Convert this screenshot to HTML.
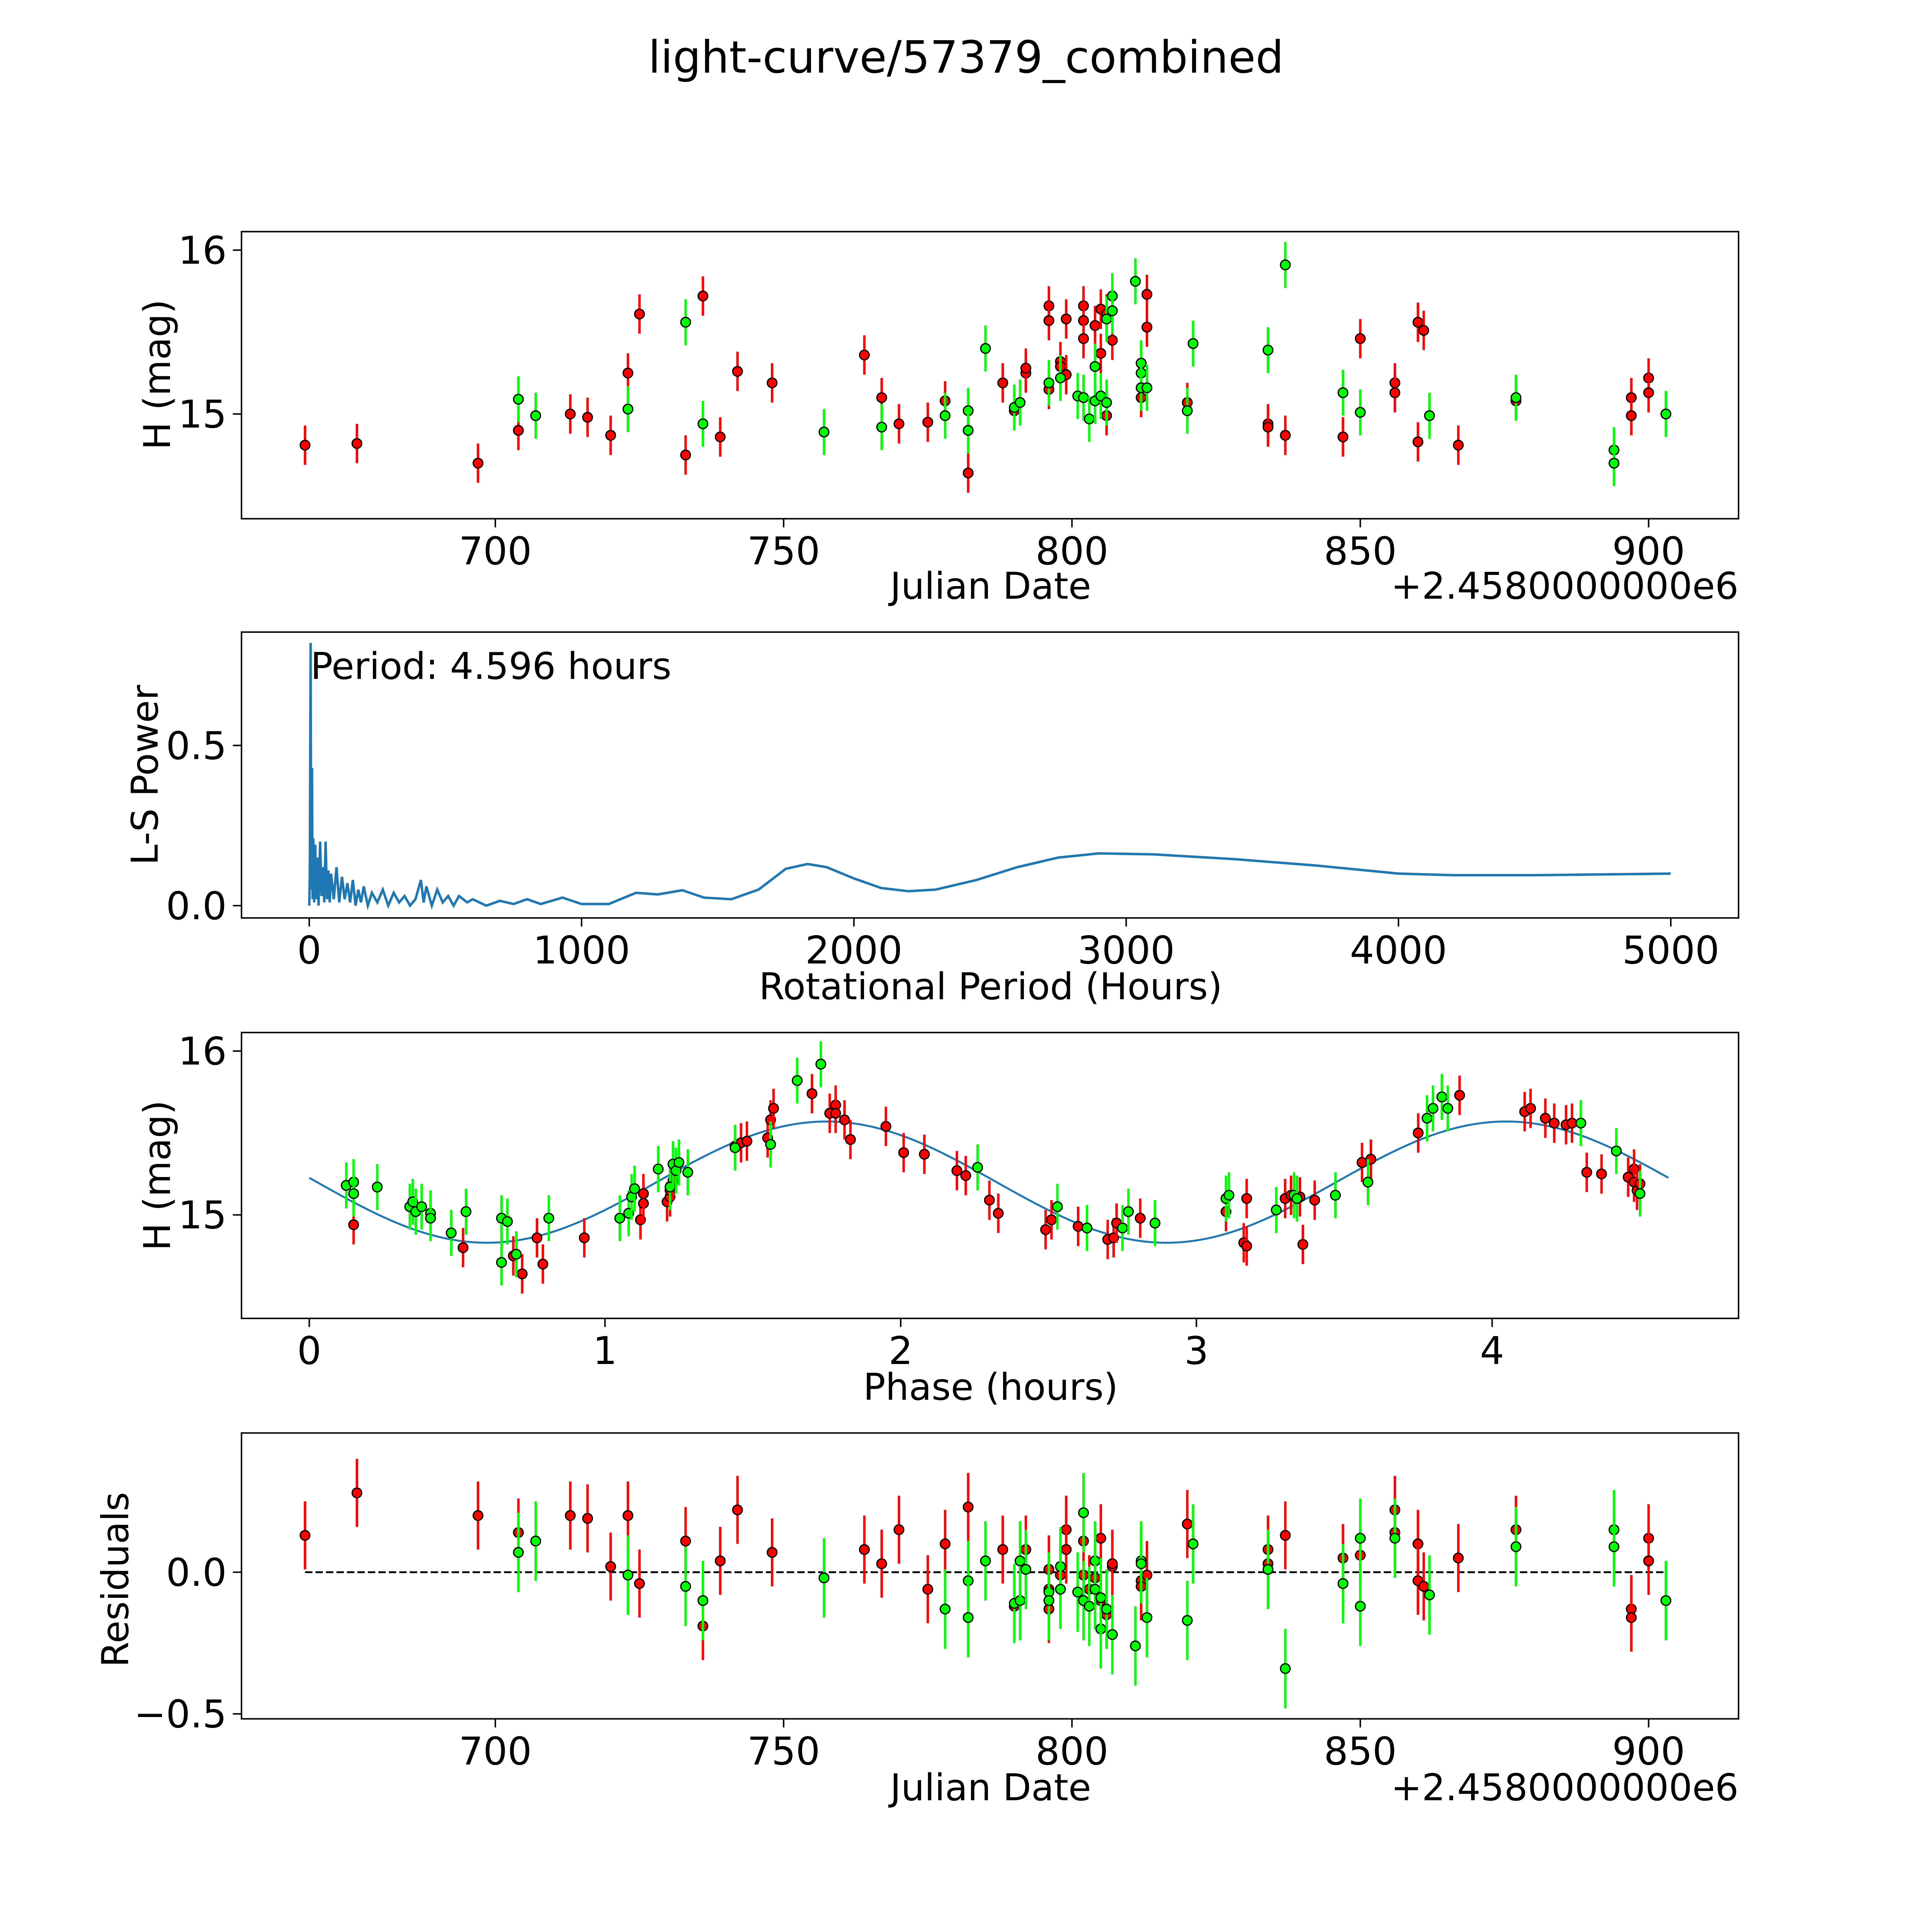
<!DOCTYPE html>
<html><head><meta charset="utf-8"><style>html,body{margin:0;padding:0;background:#fff;overflow:hidden}svg{display:block;width:100vw;height:100vw}text{font-family:"DejaVu Sans","Liberation Sans",sans-serif;fill:#000}</style></head>
<body>
<svg id="fig" xmlns="http://www.w3.org/2000/svg" viewBox="0 0 1568 1568" preserveAspectRatio="xMinYMin meet">
<rect width="1568" height="1568" fill="#fff"/>
<text x="784" y="59" font-size="36" text-anchor="middle">light-curve/57379_combined</text>
</svg>
<script>
// ---- Panel 1: light curve (JD offset, mag)
const redJD=[667,676,697,704,713,716,720,723,725,733,736,739,742,748,764,767,770,775,778,782,788,790,792,792,796,796,796,798,798,799,799,802,802,802,804,805,805,806,807,806,812,812,813,813,820,834,834,837,847,850,856,856,860,860,861,867,877,897,897,900,900];
const redMag=[14.81,14.82,14.70,14.90,15.00,14.98,14.87,15.25,15.61,14.75,15.72,14.86,15.26,15.19,15.36,15.10,14.94,14.95,15.08,14.64,15.19,15.02,15.25,15.28,15.66,15.57,15.15,15.32,15.29,15.24,15.58,15.66,15.57,15.46,15.54,15.64,15.37,14.99,15.45,15.61,15.31,15.10,15.73,15.53,15.07,14.94,14.92,14.87,14.86,15.46,15.19,15.13,15.56,14.83,15.51,14.81,15.08,15.10,14.99,15.22,15.13];
const greenJD=[704,707,723,733,736,757,767,778,782,782,785,790,791,796,798,801,802,803,804,804,805,806,806,807,807,811,812,812,812,813,820,821,834,837,847,850,862,877,894,894,903];
const greenMag=[15.09,14.99,15.03,15.56,14.94,14.89,14.92,14.99,15.02,14.90,15.40,15.04,15.07,15.19,15.22,15.11,15.10,14.97,15.29,15.08,15.11,15.07,15.58,15.72,15.63,15.81,15.25,15.31,15.16,15.16,15.02,15.43,15.39,15.91,15.13,15.01,14.99,15.10,14.78,14.70,15.00];
const redErr=0.12, greenErr=0.14;
const jdTicks=[700,750,800,850,900];
const magTicks=[15,16];
// ---- Panel 2: periodogram
const periodVals=[0,2,5,7,10,12,15,18,22,26,30,34,40,45,50,55,60,65,70,75,80,90,100,110,120,130,140,150,160,170,180,190,200,215,230,250,270,290,310,330,350,370,390,410,420,430,450,470,490,510,530,550,580,600,650,700,750,800,850,930,1000,1100,1200,1280,1370,1450,1550,1650,1750,1830,1900,2000,2100,2200,2300,2450,2600,2750,2900,3100,3400,3700,4000,4200,4500,4800,5000];
const powerVals=[0,0.1,0.82,0.05,0.43,0.02,0.21,0.01,0.19,0.02,0.15,0.0,0.2,0.03,0.12,0.01,0.2,0.02,0.11,0.01,0.1,0.02,0.12,0.01,0.09,0.02,0.07,0.01,0.08,0.0,0.05,0.01,0.06,0.0,0.04,0.01,0.05,0.0,0.04,0.01,0.03,0.0,0.02,0.08,0.01,0.06,0.0,0.05,0.01,0.03,0.0,0.03,0.01,0.02,0.0,0.015,0.005,0.02,0.005,0.025,0.005,0.005,0.04,0.035,0.048,0.025,0.02,0.05,0.115,0.13,0.12,0.085,0.055,0.045,0.05,0.08,0.12,0.15,0.163,0.16,0.145,0.125,0.1,0.095,0.095,0.098,0.1];
const periodTicks=[0,1000,2000,3000,4000,5000];
const powerTicks=[0.0,0.5];
// ---- Panel 3: phased
const redPhase=[.15,.52,.69,.72,.77,.79,.93,1.12,1.13,1.13,1.21,1.22,1.22,1.23,1.44,1.46,1.48,1.55,1.56,1.57,1.70,1.76,1.78,1.78,1.81,1.83,1.95,2.01,2.08,2.19,2.22,2.30,2.33,2.49,2.51,2.60,2.70,2.72,2.73,2.81,3.10,3.16,3.17,3.17,3.30,3.32,3.35,3.36,3.40,3.56,3.59,3.75,3.89,4.11,4.13,4.18,4.21,4.25,4.27,4.32,4.37,4.46,4.48,4.48,4.49,4.50];
const redPhaseMag=[14.94,14.80,14.75,14.64,14.86,14.70,14.86,14.97,15.07,15.13,15.08,15.11,15.15,15.21,15.42,15.44,15.45,15.47,15.58,15.65,15.74,15.62,15.67,15.62,15.58,15.46,15.54,15.38,15.37,15.27,15.24,15.09,15.01,14.91,14.97,14.93,14.85,14.86,14.95,14.98,15.02,14.83,14.81,15.10,15.10,15.12,15.11,14.82,15.09,15.32,15.34,15.50,15.73,15.63,15.65,15.59,15.56,15.55,15.56,15.26,15.25,15.23,15.28,15.20,15.15,15.19];
const greenPhase=[.125,.15,.15,.23,.34,.35,.36,.38,.41,.41,.48,.53,.65,.65,.67,.70,.81,1.05,1.08,1.09,1.10,1.18,1.22,1.23,1.24,1.25,1.28,1.44,1.56,1.65,1.73,2.26,2.53,2.63,2.75,2.77,2.86,3.10,3.11,3.27,3.33,3.34,3.47,3.58,3.78,3.80,3.83,3.85,4.30,4.42,4.50];
const greenPhaseMag=[15.18,15.20,15.13,15.17,15.05,15.08,15.02,15.05,15.01,14.98,14.89,15.02,14.71,14.98,14.96,14.76,14.98,14.98,15.01,15.11,15.16,15.28,15.17,15.31,15.27,15.32,15.26,15.41,15.43,15.82,15.92,15.29,15.05,14.92,14.92,15.02,14.95,15.10,15.12,15.03,15.12,15.10,15.12,15.20,15.59,15.65,15.72,15.65,15.56,15.39,15.13];
const fitMean=15.2, fitAmp=0.37, fitPeriod=2.298, fitShift=1.175, fullPeriod=4.596;
const phaseTicks=[0,1,2,3,4];
// ---- Panel 4: residuals
const redRes=[.13,.28,.20,.14,.20,.19,.02,.20,-.04,.11,-.19,.04,.22,.07,.08,.03,.15,-.06,.10,.23,.08,-.12,.08,.01,-.06,-.13,-.01,.15,.08,.11,-.01,-.06,-.02,.12,-.10,-.15,.02,.03,-.03,-.05,-.01,.17,.08,.03,.13,.05,.06,.22,.14,.10,-.03,-.05,.05,.15,-.13,-.16,.12,.04];
const redResJD=[667,676,697,704,713,716,720,723,725,733,736,739,742,748,764,767,770,775,778,782,788,790,792,796,796,796,798,799,799,802,802,803,804,805,805,806,807,807,812,812,813,820,834,834,837,847,850,856,856,860,860,861,867,877,897,897,900,900];
const greenRes=[.07,.11,-.01,-.05,-.10,-.02,-.13,-.03,-.16,.04,-.11,-.10,.04,.01,-.07,-.10,.02,-.06,-.07,.21,-.10,-.12,.04,-.06,-.20,-.09,-.13,-.22,-.26,.04,.03,-.16,-.17,.10,.01,-.34,-.04,.12,-.12,.12,-.08,.09,.15,.09,-.10];
const greenResJD=[704,707,723,733,736,757,778,782,782,785,790,791,791,792,796,796,798,798,801,802,802,803,804,804,805,805,806,807,811,812,812,813,820,821,834,837,847,850,850,856,862,877,894,894,903];
const resTicks=[-0.5,0.0];

const NS="http://www.w3.org/2000/svg", svg=document.getElementById('fig');
function el(tag,attrs,parent){const e=document.createElementNS(NS,tag);for(const k in attrs)e.setAttribute(k,attrs[k]);(parent||svg).appendChild(e);return e;}
function lin(d0,d1,r0,r1){return v=>r0+(v-d0)*(r1-r0)/(d1-d0);}
const L=196,R=1411;
function axes(name,top,bot,xs,ys,xt,yt,xfmt,yfmt){
  const g=el('g',{});
  
  
  xt.forEach(v=>{const x=xs(v);el('line',{x1:x,x2:x,y1:bot,y2:bot+7,stroke:'#000','stroke-width':1.2},g);
    const t=el('text',{x:x,y:bot+37,'font-size':31,'text-anchor':'middle'},g);t.textContent=xfmt(v);
    
    });
  yt.forEach(v=>{const y=ys(v);el('line',{x1:L-7,x2:L,y1:y,y2:y,stroke:'#000','stroke-width':1.2},g);
    const t=el('text',{x:L-12,y:y+11,'font-size':31,'text-anchor':'end'},g);t.textContent=yfmt(v);
    
    });
  return g;
}
function frame(top,bot){el('rect',{x:L,y:top,width:R-L,height:bot-top,fill:'none',stroke:'#000','stroke-width':1.2});}
function label(txt,x,y,rot,name){const t=el('text',{x:x,y:y,'font-size':30,'text-anchor':'middle',transform:rot?`rotate(-90 ${x} ${y})`:''});t.textContent=txt;
  
  }
function points(xs,ys,X,Y,err,color,name){
  X.forEach((v,i)=>{const x=xs(v),y=ys(Y[i]);
    const l=el('line',{x1:x,x2:x,y1:ys(Y[i]+err),y2:ys(Y[i]-err),stroke:color,'stroke-width':2});
    
    
    const c=el('circle',{cx:x,cy:y,r:3.9,fill:color,stroke:'#000','stroke-width':1});
    
    });
}
const fmt0=v=>String(v), neg=v=>(v<0?'\u2212':'')+Math.abs(v).toFixed(1);
// Panel 1
{const top=188,bot=421,xs=lin(700,900,402,1338),ys=lin(15,16,336,203);
 axes('lightcurve-axes',top,bot,xs,ys,jdTicks,magTicks,fmt0,fmt0);
 points(xs,ys,redJD,redMag,redErr,'#ff0000','red-obs');
 points(xs,ys,greenJD,greenMag,greenErr,'#00ff00','green-obs');
 frame(top,bot);label('H (mag)',138,304,true,'y-axis-title-mag');label('Julian Date',804,486,false,'x-axis-title-jd');
 const t=el('text',{x:1411,y:486,'font-size':30,'text-anchor':'end'});t.textContent='+2.4580000000e6';
 
 }
// Panel 2
{const top=513,bot=745,xs=lin(0,5000,251,1356),ys=lin(0,0.5,735,605);
 axes('periodogram-axes',top,bot,xs,ys,periodTicks,powerTicks,fmt0,v=>v.toFixed(1));
 const p=el('polyline',{points:periodVals.map((v,i)=>xs(v)+','+ys(powerVals[i])).join(' '),fill:'none',stroke:'#1f77b4','stroke-width':2});
 
 
 frame(top,bot);label('L-S Power',128,629,true,'y-axis-title-power');label('Rotational Period (Hours)',804,811,false,'x-axis-title-period');
 const t=el('text',{x:252,y:551,'font-size':30});t.textContent='Period: 4.596 hours';
 
 }
// Panel 3
{const top=838,bot=1070,xs=lin(0,4,251,1211),ys=lin(15,16,986,853);
 axes('phase-axes',top,bot,xs,ys,phaseTicks,magTicks,fmt0,fmt0);
 const pts=[];for(let i=0;i<=200;i++){const x=fullPeriod*i/200;pts.push(xs(x)+','+ys(fitMean+fitAmp*Math.sin(2*Math.PI*(x-fitShift)/fitPeriod)));}
 const p=el('polyline',{points:pts.join(' '),fill:'none',stroke:'#1f77b4','stroke-width':1.6});
 
 
 points(xs,ys,redPhase,redPhaseMag,redErr,'#ff0000','red-phased');
 points(xs,ys,greenPhase,greenPhaseMag,greenErr,'#00ff00','green-phased');
 frame(top,bot);label('H (mag)',138,954,true,'y-axis-title-phase-mag');label('Phase (hours)',804,1136,false,'x-axis-title-phase');}
// Panel 4
{const top=1163,bot=1395,xs=lin(700,900,402,1338),ys=lin(0,-0.5,1276,1391);
 axes('residuals-axes',top,bot,xs,ys,jdTicks,resTicks,fmt0,neg);
 const z=el('line',{x1:xs(667),x2:xs(903),y1:ys(0),y2:ys(0),stroke:'#000','stroke-width':1.5,'stroke-dasharray':'6,2.5'});
 
 
 points(xs,ys,redResJD,redRes,redErr,'#ff0000','red-residual');
 points(xs,ys,greenResJD,greenRes,greenErr,'#00ff00','green-residual');
 frame(top,bot);label('Residuals',104,1282,true,'y-axis-title-residuals');label('Julian Date',804,1461,false,'x-axis-title-jd-residuals');
 const t=el('text',{x:1411,y:1461,'font-size':30,'text-anchor':'end'});t.textContent='+2.4580000000e6';
 
 }
</script>
</body></html>
